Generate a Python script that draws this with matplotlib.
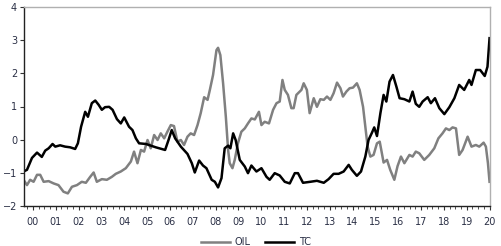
import matplotlib
matplotlib.use("Agg")
import matplotlib.pyplot as plt
from matplotlib.ticker import MultipleLocator

# values (x in decimal years)
tc_x = [1999.59, 1999.74, 1999.96, 2000.18, 2000.39, 2000.54, 2000.69, 2000.86, 2000.98,
        2001.19, 2001.41, 2001.63, 2001.85, 2001.97, 2002.11, 2002.29, 2002.41, 2002.58,
        2002.73, 2002.88, 2003.02, 2003.16, 2003.34, 2003.49, 2003.68, 2003.85, 2004.00,
        2004.21, 2004.36, 2004.51, 2004.65, 2004.95, 2005.38, 2005.79, 2005.94, 2006.08,
        2006.23, 2006.48, 2006.77, 2006.96, 2007.09, 2007.28, 2007.45, 2007.60, 2007.83,
        2007.97, 2008.11, 2008.26, 2008.40, 2008.55, 2008.65, 2008.77, 2008.88, 2009.06,
        2009.28, 2009.42, 2009.57, 2009.79, 2010.01, 2010.23, 2010.37, 2010.59, 2010.81,
        2011.03, 2011.25, 2011.47, 2011.61, 2011.83, 2012.15, 2012.44, 2012.74, 2012.95,
        2013.17, 2013.39, 2013.61, 2013.83, 2013.97, 2014.19, 2014.37, 2014.56, 2014.70,
        2014.85, 2014.95, 2015.07, 2015.22, 2015.36, 2015.48, 2015.62, 2015.77, 2015.92,
        2016.06, 2016.27, 2016.49, 2016.63, 2016.77, 2016.92, 2017.07, 2017.29, 2017.43,
        2017.61, 2017.80, 2018.02, 2018.24, 2018.46, 2018.67, 2018.89, 2019.11, 2019.21,
        2019.40, 2019.59, 2019.79, 2019.91, 2020.00]
tc_y = [-0.96, -0.91, -0.55, -0.39, -0.52, -0.33, -0.26, -0.13, -0.21,
        -0.17, -0.21, -0.23, -0.28, -0.11, 0.39, 0.84, 0.69, 1.10,
        1.18, 1.05, 0.90, 0.98, 0.99, 0.90, 0.62, 0.49, 0.67,
        0.39, 0.29, 0.04, -0.11, -0.13, -0.23, -0.31, -0.01, 0.29,
        0.04, -0.21, -0.43, -0.71, -0.99, -0.63, -0.78, -0.86, -1.21,
        -1.27, -1.44, -1.16, -0.26, -0.18, -0.26, 0.19, -0.01, -0.61,
        -0.81, -1.01, -0.78, -0.96, -0.86, -1.12, -1.21, -1.01, -1.08,
        -1.27, -1.32, -1.01, -1.01, -1.30, -1.27, -1.24, -1.30, -1.19,
        -1.03, -1.03, -0.96, -0.76, -0.91, -1.09, -0.96, -0.51, -0.01,
        0.21, 0.37, 0.11, 0.80, 1.35, 1.15, 1.75, 1.95, 1.60,
        1.25, 1.22, 1.15, 1.45, 1.08, 0.99, 1.15, 1.28, 1.10,
        1.25, 0.95, 0.77, 0.98, 1.25, 1.65, 1.50, 1.80, 1.65,
        2.10, 2.10, 1.92, 2.20, 3.06]

oil_x = [1999.59, 1999.74, 1999.88, 2000.03, 2000.18, 2000.32, 2000.47, 2000.69, 2000.91,
         2001.12, 2001.34, 2001.53, 2001.71, 2001.93, 2002.14, 2002.32, 2002.51, 2002.66,
         2002.80, 2003.02, 2003.24, 2003.46, 2003.63, 2003.85, 2004.07, 2004.29, 2004.43,
         2004.58, 2004.73, 2004.87, 2005.02, 2005.16, 2005.31, 2005.46, 2005.60, 2005.75,
         2005.89, 2006.04, 2006.18, 2006.33, 2006.48, 2006.62, 2006.77, 2006.91, 2007.06,
         2007.21, 2007.35, 2007.50, 2007.65, 2007.75, 2007.89, 2008.04, 2008.11, 2008.21,
         2008.33, 2008.45, 2008.55, 2008.62, 2008.74, 2008.84, 2008.98, 2009.13, 2009.28,
         2009.42, 2009.57, 2009.72, 2009.90, 2010.01, 2010.15, 2010.34, 2010.52, 2010.67,
         2010.81, 2010.93, 2011.03, 2011.17, 2011.32, 2011.42, 2011.54, 2011.76, 2011.86,
         2012.00, 2012.12, 2012.30, 2012.44, 2012.59, 2012.74, 2012.88, 2013.03, 2013.17,
         2013.32, 2013.47, 2013.58, 2013.73, 2013.87, 2014.02, 2014.19, 2014.31, 2014.46,
         2014.56, 2014.66, 2014.78, 2014.92, 2015.07, 2015.19, 2015.36, 2015.51, 2015.65,
         2015.83, 2015.97, 2016.12, 2016.27, 2016.49, 2016.63, 2016.77, 2016.92, 2017.14,
         2017.36, 2017.58, 2017.76, 2017.94, 2018.09, 2018.24, 2018.38, 2018.53, 2018.67,
         2018.82, 2019.04, 2019.21, 2019.40, 2019.55, 2019.74, 2019.84, 2019.93, 2020.00]
oil_y = [-1.21, -1.37, -1.21, -1.27, -1.06, -1.06, -1.27, -1.25, -1.32,
         -1.37, -1.57, -1.62, -1.42, -1.37, -1.27, -1.30, -1.12, -0.99,
         -1.27, -1.19, -1.21, -1.12, -1.03, -0.96, -0.86, -0.66, -0.36,
         -0.71, -0.31, -0.36, -0.01, -0.26, 0.14, -0.01, 0.19, 0.04,
         0.24, 0.44, 0.41, -0.06, -0.01, -0.16, 0.09, 0.19, 0.14,
         0.44, 0.80, 1.28, 1.20, 1.50, 1.95, 2.70, 2.77, 2.55,
         1.70, 0.69, -0.31, -0.71, -0.86, -0.61, -0.11, 0.24, 0.34,
         0.49, 0.64, 0.61, 0.84, 0.44, 0.54, 0.49, 0.90, 1.10,
         1.15, 1.80, 1.50, 1.35, 0.95, 0.95, 1.35, 1.50, 1.70,
         1.50, 0.80, 1.25, 0.99, 1.22, 1.20, 1.30, 1.20, 1.40,
         1.72, 1.55, 1.30, 1.45, 1.55, 1.57, 1.70, 1.50, 0.99,
         0.39, -0.21, -0.51, -0.46, -0.11, -0.06, -0.69, -0.61, -0.91,
         -1.21, -0.80, -0.51, -0.71, -0.46, -0.51, -0.36, -0.41, -0.61,
         -0.46, -0.26, 0.04, 0.19, 0.34, 0.29, 0.37, 0.34, -0.46,
         -0.31, 0.09, -0.21, -0.16, -0.21, -0.09, -0.21, -0.71, -1.27]

years = list(range(2000, 2021))
year_labels = ["%02d" % (y % 100) for y in years]

fig = plt.figure(figsize=(5.02, 2.46), dpi=100)
ax = fig.add_axes([24 / 502, 1 - 206 / 246, 466 / 502, 199 / 246])

ax.plot(oil_x, oil_y, color="#808080", lw=1.8, label="OIL")
ax.plot(tc_x, tc_y, color="black", lw=1.8, label="TC")

ax.set_xlim(1999.61, 2020.02)
ax.set_ylim(-2, 4)
ax.set_xticks(years)
ax.set_xticklabels(year_labels)
ax.xaxis.set_minor_locator(MultipleLocator(0.25))
ax.yaxis.set_major_locator(MultipleLocator(1))

lab_col = "#2a2f45"
ax.tick_params(axis="both", which="major", labelsize=7, colors="#333333",
               labelcolor=lab_col, length=3, width=0.8, direction="out", pad=2)
ax.tick_params(axis="x", which="minor", length=2, width=0.6, color="#333333", direction="out")
ax.tick_params(axis="x", which="major", pad=5)

for s in ["left", "bottom"]:
    ax.spines[s].set_color("#222222")
    ax.spines[s].set_linewidth(1)
for s in ["top", "right"]:
    ax.spines[s].set_color("#b0b0b0")
    ax.spines[s].set_linewidth(1)

fig.legend(loc="lower center", bbox_to_anchor=(0.51, -0.04), ncol=2, frameon=False,
           fontsize=7, handlelength=3, columnspacing=1.5, handletextpad=0.5,
           labelcolor=lab_col)

fig.savefig("out.png", dpi=100)
